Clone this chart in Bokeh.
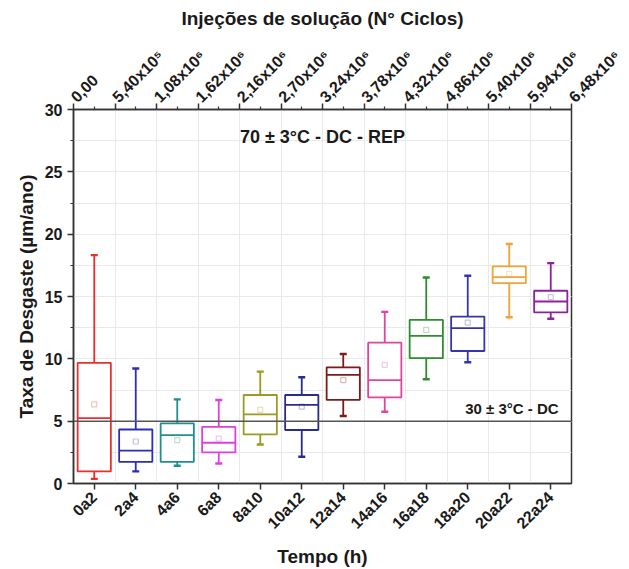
import math
from bokeh.plotting import figure
from bokeh.models import (ColumnDataSource, Range1d, LinearAxis, FixedTicker,
                          SingleIntervalTicker, Span, Label, Grid)
from bokeh.transform import dodge
from bokeh.embed import file_html
from bokeh.resources import INLINE

# Wear-rate statistics per 2-hour interval (µm/ano)
tempo = ["0a2", "2a4", "4a6", "6a8", "8a10", "10a12",
         "12a14", "14a16", "16a18", "18a20", "20a22", "22a24"]
whisker_low = [0.37, 0.97, 1.42, 1.61, 3.13, 2.14, 5.41, 5.76, 8.36, 9.72, 13.34, 13.21]
q1 = [0.97, 1.74, 1.74, 2.49, 3.94, 4.29, 6.70, 6.91, 10.05, 10.63, 16.07, 13.72]
mediana = [5.25, 2.63, 3.88, 3.27, 5.55, 6.30, 8.71, 8.30, 11.84, 12.46, 16.55, 14.60]
media = [6.34, 3.37, 3.48, 3.60, 5.90, 6.16, 8.30, 9.51, 12.32, 12.91, 16.82, 14.95]
q3 = [9.68, 4.33, 4.82, 4.55, 7.10, 7.10, 9.32, 11.30, 13.13, 13.39, 17.41, 15.46]
whisker_high = [18.32, 9.22, 6.75, 6.70, 8.97, 8.52, 10.39, 13.77, 16.53, 16.66, 19.21, 17.68]

# Injection count axis (top), one step per interval boundary
ciclos_labels = ["0,00", "5,40x10⁵", "1,08x10⁶", "1,62x10⁶", "2,16x10⁶", "2,70x10⁶",
                 "3,24x10⁶", "3,78x10⁶", "4,32x10⁶", "4,86x10⁶", "5,40x10⁶",
                 "5,94x10⁶", "6,48x10⁶"]

cores = ["#e8312f", "#2d2db5", "#1f8f8f", "#dd3fe0", "#9c9a22", "#2b2b8f",
         "#7d1a1a", "#e0459e", "#2e8b2e", "#3535b0", "#f2a23a", "#8c239c"]

FONT = "Liberation Sans"
AXIS = "#333333"
GRID = "#e9e9e9"
INK = "#1a1a1a"

# each interval occupies one unit; boxes sit at the unit centres
n = len(tempo)
centros = [i + 0.5 for i in range(n)]
limites = list(range(n + 1))

src = ColumnDataSource(dict(x=centros, tempo=tempo, lo=whisker_low, q1=q1, med=mediana,
                            media=media, q3=q3, hi=whisker_high, cor=cores))

p = figure(width=629, height=569, x_range=Range1d(0, n), y_range=Range1d(0, 30),
           output_backend="svg", toolbar_location=None,
           min_border_left=73, min_border_right=58, min_border_top=109, min_border_bottom=86,
           background_fill_color="white", border_fill_color="white")

p.outline_line_color = AXIS
p.outline_line_width = 1.5

# bottom axis: time intervals
bottom = p.xaxis[0]
bottom.ticker = FixedTicker(ticks=centros, minor_ticks=[])
bottom.major_label_overrides = {c: t for c, t in zip(centros, tempo)}
bottom.axis_label = "Tempo (h)"
bottom.major_label_orientation = math.pi / 4

# top axis: number of solution injections
top_ticker = FixedTicker(ticks=limites, minor_ticks=[i + 0.5 for i in range(n)])
top = LinearAxis(ticker=top_ticker,
                 major_label_overrides={b: lbl for b, lbl in zip(limites, ciclos_labels)},
                 axis_label="Injeções de solução (N° Ciclos)")
top.major_label_orientation = math.pi / 4
p.add_layout(top, "above")

# y axis
p.yaxis.ticker = SingleIntervalTicker(interval=5, num_minor_ticks=2)
p.yaxis.axis_label = "Taxa de Desgaste (µm/ano)"

for ax in p.axis:
    ax.axis_line_color = AXIS
    ax.axis_line_width = 1.5
    ax.major_tick_line_color = AXIS
    ax.minor_tick_line_color = AXIS
    ax.major_tick_line_width = 1.5
    ax.minor_tick_line_width = 1.2
    ax.major_tick_in = 0
    ax.major_tick_out = 6
    ax.minor_tick_in = 0
    ax.minor_tick_out = 3
    ax.major_label_text_font = FONT
    ax.major_label_text_font_style = "bold"
    ax.major_label_text_font_size = "16px"
    ax.major_label_text_color = INK
    ax.axis_label_text_font = FONT
    ax.axis_label_text_font_style = "bold"
    ax.axis_label_text_font_size = "19px"
    ax.axis_label_text_color = INK

top.axis_label_standoff = 9
top.major_label_standoff = 4

# grids: vertical lines on interval boundaries, horizontal every 2.5
p.xgrid.visible = False
p.ygrid.grid_line_color = GRID
p.ygrid.minor_grid_line_color = GRID
p.add_layout(Grid(dimension=0, ticker=top_ticker, grid_line_color=GRID))

# reference level
p.add_layout(Span(location=5, dimension="width", line_color="#555555", line_width=1.5))

# box plots
LW = 1.8
p.segment(x0="x", y0="q3", x1="x", y1="hi", source=src, line_color="cor", line_width=LW)
p.segment(x0="x", y0="q1", x1="x", y1="lo", source=src, line_color="cor", line_width=LW)
p.vbar(x="x", bottom="q1", top="q3", width=0.8, source=src,
       fill_color="white", line_color="cor", line_width=LW)
p.segment(x0=dodge("x", -0.4), y0="med", x1=dodge("x", 0.4), y1="med",
          source=src, line_color="cor", line_width=LW)
p.scatter(x="x", y="hi", marker="dash", size=7, source=src, line_color="cor", line_width=2.4)
p.scatter(x="x", y="lo", marker="dash", size=7, source=src, line_color="cor", line_width=2.4)
p.scatter(x="x", y="media", marker="square", size=5, source=src,
          fill_color=None, line_color="cor", line_alpha=0.3, line_width=1.2)

# annotations
p.add_layout(Label(x=6, y=27.8, text="70 ± 3°C - DC - REP",
                   text_align="center", text_baseline="middle", text_font=FONT,
                   text_font_style="bold", text_font_size="18px", text_color=INK))
p.add_layout(Label(x=11.69, y=5.3, text="30 ± 3°C - DC",
                   text_align="right", text_baseline="bottom", text_font=FONT,
                   text_font_style="bold", text_font_size="15px", text_color=INK))

open("out.html", "w").write(file_html(p, INLINE))
